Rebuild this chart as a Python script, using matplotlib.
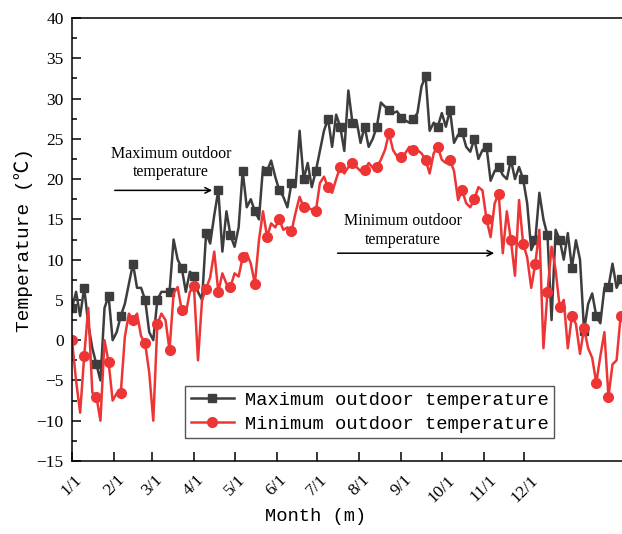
import numpy as np
import matplotlib.pyplot as plt
from matplotlib.ticker import MultipleLocator

step_days = 3
t_max = [4, 6, 3, 6.5, 2, -1, -3, -5, 4, 5.5, 0, 1, 3, 4.5, 7, 9.5, 6.5, 6.5, 5, 1,
         0, 5, 6, 6, 6, 12.5, 10, 9, 6, 8.5, 8, 6, 5, 13.3, 12, 15.5, 18.6, 11, 16, 13,
         11.6, 14, 21, 16.5, 17.5, 16, 15, 21.5, 21, 22.3, 20.3, 18.6, 17.8, 16.5, 19.5, 19, 26, 20, 22, 19,
         21, 23.5, 26, 27.5, 24, 28, 26.5, 23.5, 31, 27, 27.3, 24.5, 26.5, 24, 25, 26.5, 29.5, 29, 28.6, 28.2,
         28.4, 27.6, 27.3, 27, 27.5, 28.2, 31.5, 32.8, 26, 27, 26.5, 28.2, 26.5, 28.6, 24.5, 25.5, 25.8, 24, 23.4, 25,
         22.5, 23.6, 24, 19.8, 21, 21.5, 20.5, 20, 22.4, 20, 21.5, 20, 17, 11.2, 12.4, 18.3, 15, 13, 2.5, 13.7,
         12.5, 10, 13.3, 9, 12.4, 10, 1.2, 4.5, 5.8, 3, 2.1, 6.5, 6.6, 9.5, 6.5, 7.6]
t_min = [0, -5, -9, -2, 4, -6.5, -7, -10, 0, -2.7, -7.5, -6.6, -6.6, 0.4, 3.3, 2.5, 3.3, 0.5, -0.4, -4,
         -10, 2, 3.3, 2.5, -1.2, 5.8, 6.6, 3.7, 3.3, 6, 6.7, -2.5, 5, 6.4, 7.8, 11, 6, 8.3, 7, 6.6,
         8.3, 7.9, 10.3, 10.8, 9.5, 7, 12.4, 16, 12.8, 14.5, 14, 15, 13.7, 14, 13.5, 15.8, 17.8, 16.5, 16.5, 16.2,
         16, 19.5, 20.3, 19, 18.3, 20, 21.5, 20.7, 21.5, 22, 21.5, 21, 21.1, 22, 21.4, 21.5, 22.4, 23.6, 25.7, 23.6,
         22.8, 22.8, 23.2, 24, 23.6, 23.6, 23.2, 22.4, 20.7, 23.2, 24, 22.4, 22, 22.4, 21, 17.4, 18.6, 17, 16.5, 17.5,
         19, 18.6, 15, 12.8, 17, 18.2, 10.8, 16, 12.4, 8, 17.4, 12, 10.3, 6.5, 9.5, 13.7, -1, 6, 11.6, 8.7,
         4.1, 5, -1, 3, 2, -1.7, 1.5, -1, -2.2, -5.3, -2, 1, -7, -3, -2.5, 3]

month_days = [0, 31, 59, 90, 120, 151, 181, 212, 243, 273, 304, 334]
month_labels = ['1/1', '2/1', '3/1', '4/1', '5/1', '6/1', '7/1', '8/1', '9/1', '10/1', '11/1', '12/1']

days = np.arange(len(t_max)) * step_days

mono = ['Liberation Mono', 'Noto Sans CJK SC']
plt.rcParams['font.family'] = ['Liberation Serif', 'Noto Sans CJK SC']

fig = plt.figure(figsize=(6.22, 5.34), dpi=100)
ax = fig.add_axes([72 / 622, 73 / 534, 550 / 622, 443 / 534])

ax.plot(days, t_max, color='#3d3d3d', lw=1.8, marker='s', ms=6, markevery=3,
        label='Maximum outdoor temperature')
ax.plot(days, t_min, color='#ee3535', lw=1.8, marker='o', ms=7, markevery=3,
        label='Minimum outdoor temperature')

ax.set_xlim(0, 406)
ax.set_ylim(-15, 40)
ax.yaxis.set_major_locator(MultipleLocator(5))
ax.yaxis.set_minor_locator(MultipleLocator(2.5))
ax.set_xticks(month_days)
ax.set_xticklabels(month_labels, rotation=45, ha='center')
ax.tick_params(axis='both', which='major', direction='in', length=6.5, width=1.1, labelsize=12.5)
ax.tick_params(axis='y', which='minor', direction='in', length=3.5, width=1.1)
ax.tick_params(axis='y', pad=6)
ax.tick_params(axis='x', pad=8)
for s in ['left', 'bottom', 'top']:
    ax.spines[s].set_linewidth(1.1)
ax.spines['right'].set_visible(False)

ax.set_ylabel('Temperature (℃)', family=mono, fontsize=14)
ax.yaxis.set_label_coords(-0.071, 0.5)
ax.set_xlabel('Month (m)', family=mono, fontsize=13.5)
ax.xaxis.set_label_coords(0.443, -0.105)

ax.annotate('', xy=(105.5, 18.6), xytext=(29.5, 18.6),
            arrowprops=dict(arrowstyle='->', color='black', lw=1.1))
ax.text(73, 22.0, 'Maximum outdoor\ntemperature', ha='center', va='center', fontsize=11.5,
        linespacing=1.2)
ax.annotate('', xy=(313.7, 10.8), xytext=(194, 10.8),
            arrowprops=dict(arrowstyle='->', color='black', lw=1.1))
ax.text(244, 13.6, 'Minimum outdoor\ntemperature', ha='center', va='center', fontsize=11.5,
        linespacing=1.2)

leg = ax.legend(loc='upper left', bbox_to_anchor=(0.2055, 0.169), prop={'family': mono, 'size': 13.5},
                fancybox=False, framealpha=1, edgecolor='#555555', borderpad=0.3,
                handlelength=2.3, handletextpad=0.6, labelspacing=0.35, borderaxespad=0)
leg.get_frame().set_linewidth(1.0)

fig.savefig('out.png', dpi=100)
